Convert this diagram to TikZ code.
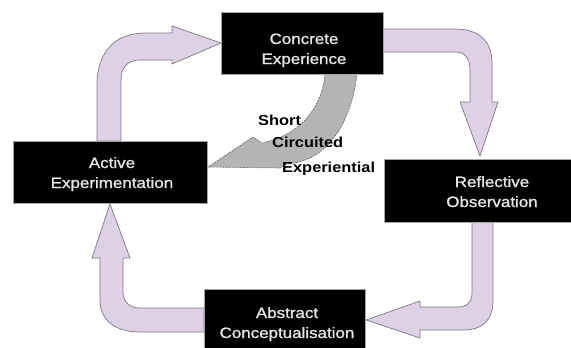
\documentclass[tikz,border=0pt]{standalone}
\usepackage{fontspec}
\setmainfont{Liberation Sans}[FakeStretch=1.13]
\newfontfamily\boxfont{Liberation Sans}[FakeStretch=1.13, FakeBold=1.3]
\definecolor{lav}{RGB}{221,210,229}
\definecolor{lavline}{RGB}{125,120,128}
\definecolor{sc}{RGB}{180,180,180}
\tikzset{
  box/.style={draw=black!35, line width=0.8pt, fill=black, inner sep=0pt},
  boxtext/.style={text=white!90!black, anchor=base, inner sep=0pt, font=\boxfont\fontsize{15}{20}\selectfont},
  lbl/.style={text=black, anchor=base west, inner sep=0pt, font=\fontsize{14.5}{18}\selectfont\bfseries},
  cyc/.style={fill=lav, draw=lavline, line width=0.7pt, line join=round},
  shortc/.style={fill=sc, draw=black!60, line width=0.6pt, dashed, dash pattern=on 2pt off 1pt}
}
\begin{document}
\begin{tikzpicture}[x=1pt,y=-1pt]
\useasboundingbox (0,0) rectangle (571,348);
\clip (0,0) rectangle (571,348);
\fill[white] (0,0) rectangle (571,348);

% cycle arrows
\draw[cyc] (97,141) -- (97,85) .. controls (97,52) and (115,33) .. (145,33) -- (172,33) -- (172,26) -- (221,43) -- (172,64) -- (172,60) -- (140,60) .. controls (127,60) and (121,68) .. (121,80) -- (121,141) -- cycle;
\draw[cyc] (383,29) -- (455,29) .. controls (479,29) and (492,41) .. (492,63) -- (492,102) -- (498,102) -- (480,156) -- (460,102) -- (470,102) -- (470,70) .. controls (470,58) and (465,52) .. (455,52) -- (383,52) -- cycle;
\draw[cyc] (472,222) -- (493,222) -- (493,300) .. controls (493,320) and (483,330) .. (463,330) -- (420,330) -- (420,338) -- (366,320) -- (420,301) -- (420,307) -- (458,307) .. controls (467,307) and (472,302) .. (472,293) -- cycle;
\draw[cyc] (204,308) -- (140,308) .. controls (130,308) and (123,302) .. (123,292) -- (123,258) -- (130,258) -- (110,204) -- (92,258) -- (100,258) -- (100,300) .. controls (100,320) and (115,332) .. (140,332) -- (204,332) -- cycle;

% short circuit arrow
\draw[shortc] (325,74) .. controls (322,108) and (300,135) .. (262,143) -- (253,137) -- (208,167) -- (280,168) -- (286,164) .. controls (330,162) and (352,118) .. (357,74) -- cycle;

% boxes
\node[box, minimum width=162, minimum height=62] (ce) at (302,43) {};
\node[box, minimum width=212, minimum height=63] (ro) at (490,190.5) {};
\node[box, minimum width=194, minimum height=62] (ae) at (110,172) {};
\node[box, minimum width=161, minimum height=64] (ac) at (284.5,321) {};

\node[boxtext] (ce1) at (304,44) {Concrete};
\node[boxtext] (ce2) at (304,64) {Experience};
\node[boxtext] (ro1) at (492,187) {Reflective};
\node[boxtext] (ro2) at (492,207) {Observation};
\node[boxtext] (ae1) at (112,168) {Active};
\node[boxtext] (ae2) at (112,188) {Experimentation};
\node[boxtext] (ac1) at (287,318) {Abstract};
\node[boxtext] (ac2) at (287,338) {Conceptualisation};

% labels
\node[lbl] (l1) at (258,125) {Short};
\node[lbl] (l2) at (272,147) {Circuited};
\node[lbl] (l3) at (282,172) {Experiential};
\end{tikzpicture}
\end{document}
